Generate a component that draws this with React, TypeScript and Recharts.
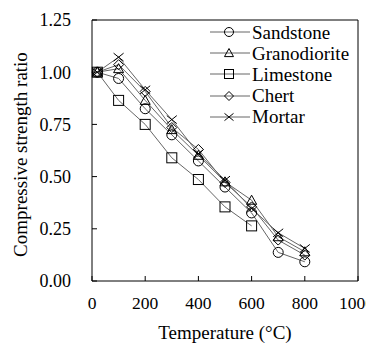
import React from 'react';
import { LineChart, Line, XAxis, YAxis, Legend, Label } from 'recharts';

const temperatures = [20, 100, 200, 300, 400, 500, 600, 700, 800];
const sandstone = [1.0, 0.97, 0.825, 0.7, 0.575, 0.45, 0.326, 0.137, 0.092];
const granodiorite = [1.0, 1.017, 0.865, 0.725, 0.602, 0.475, 0.387, 0.212, 0.14];
const limestone = [1.0, 0.865, 0.75, 0.59, 0.486, 0.355, 0.264, null, null];
const chert = [1.0, 1.036, 0.908, 0.735, 0.63, 0.472, 0.355, 0.196, 0.124];
const mortar = [1.0, 1.072, 0.916, 0.773, 0.61, 0.483, 0.347, 0.231, 0.156];

const xTicks = [0, 200, 400, 600, 800, 1000];
const yTicks = [0, 0.25, 0.5, 0.75, 1.0, 1.25];

const series = [
  { key: 'Sandstone', values: sandstone, shape: 'circle' },
  { key: 'Granodiorite', values: granodiorite, shape: 'triangle' },
  { key: 'Limestone', values: limestone, shape: 'square' },
  { key: 'Chert', values: chert, shape: 'diamond' },
  { key: 'Mortar', values: mortar, shape: 'cross' },
];

const data = temperatures.map((t, i) => {
  const row: Record<string, number | null> = { temp: t };
  series.forEach((s) => {
    row[s.key] = s.values[i];
  });
  return row;
});

const FONT = "'Liberation Serif'";
const LINE_COLOR = '#666';

// open black markers, one shape per series
const Marker = ({ shape, cx, cy, s = 5 }: { shape: string; cx: number; cy: number; s?: number }) => {
  const common = { fill: 'none', stroke: '#000', strokeWidth: 1 };
  switch (shape) {
    case 'circle':
      return <circle cx={cx} cy={cy} r={s} {...common} />;
    case 'square':
      return <rect x={cx - s} y={cy - s} width={s * 2} height={s * 2} {...common} />;
    case 'triangle':
      return (
        <polygon
          points={`${cx},${cy - s} ${cx - s},${cy + s * 0.8} ${cx + s},${cy + s * 0.8}`}
          {...common}
        />
      );
    case 'diamond':
      return (
        <polygon points={`${cx},${cy - s} ${cx + s},${cy} ${cx},${cy + s} ${cx - s},${cy}`} {...common} />
      );
    default:
      return (
        <path
          d={`M${cx - s},${cy - s * 0.8}L${cx + s},${cy + s * 0.8}M${cx - s},${cy + s * 0.8}L${cx + s},${cy - s * 0.8}`}
          {...common}
        />
      );
  }
};

const makeDot = (shape: string) => (props: any) => {
  const { cx, cy, index, value } = props;
  if (cx == null || cy == null || value == null) return <g key={`e-${index}`} />;
  return (
    <g key={`d-${index}`}>
      <Marker shape={shape} cx={cx} cy={cy} />
    </g>
  );
};

const LegendBox = () => (
  <div style={{ fontFamily: FONT, fontSize: 19, color: '#000' }}>
    {series.map((s) => (
      <div key={s.key} style={{ display: 'flex', alignItems: 'center', height: 21.2 }}>
        <svg width={42} height={20} style={{ display: 'block', flex: 'none' }}>
          <line x1={0} y1={10} x2={40} y2={10} stroke={LINE_COLOR} strokeWidth={1} />
          <Marker shape={s.shape} cx={19} cy={10} s={4.5} />
        </svg>
        <span style={{ lineHeight: '21px' }}>{s.key}</span>
      </div>
    ))}
  </div>
);

const YTitle = (props: any) => {
  const { viewBox } = props;
  const x = viewBox.x + 12.5;
  const y = viewBox.y + viewBox.height / 2 + 4;
  return (
    <text
      x={x}
      y={y}
      transform={`rotate(-90, ${x}, ${y})`}
      textAnchor="middle"
      dy="0.355em"
      fontSize={19}
      fill="#000"
    >
      Compressive strength ratio
    </text>
  );
};

export default function App() {
  return (
    <div style={{ fontFamily: FONT }}>
      <style>{`.recharts-wrapper text { font-family: ${FONT}; } .recharts-surface { overflow: visible; }`}</style>
      <LineChart
        width={366}
        height={337}
        data={data}
        margin={{ top: 11, right: 15, bottom: 9, left: 0 }}
        style={{ overflow: 'visible' }}
      >
        <XAxis
          dataKey="temp"
          type="number"
          domain={[0, 1000]}
          ticks={xTicks}
          height={55}
          stroke="#000"
          tickSize={-5}
          tickMargin={21}
          tick={{ fontSize: 17.5, fill: '#000' }}
        >
          <Label value="Temperature (°C)" position="insideBottom" offset={-3} fontSize={19} fill="#000" />
        </XAxis>
        <XAxis
          xAxisId="top"
          orientation="top"
          type="number"
          domain={[0, 1000]}
          ticks={xTicks}
          height={1}
          stroke="#000"
          tickSize={-5}
          tick={false}
        />
        <YAxis
          type="number"
          domain={[0, 1.25]}
          ticks={yTicks}
          width={84}
          stroke="#000"
          tickSize={-5}
          tickMargin={26}
          tickFormatter={(v: number) => v.toFixed(2)}
          tick={{ fontSize: 18, fill: '#000' }}
          label={<YTitle />}
        />
        <YAxis
          yAxisId="right"
          orientation="right"
          type="number"
          domain={[0, 1.25]}
          ticks={yTicks}
          width={1}
          stroke="#000"
          tickSize={-5}
          tick={false}
        />
        <Legend
          layout="horizontal"
          verticalAlign="middle"
          align="center"
          content={<LegendBox />}
          wrapperStyle={{ top: 13.5, left: 202, width: 150, height: 'auto' }}
        />
        {series.map((s) => (
          <Line
            key={s.key}
            dataKey={s.key}
            name={s.key}
            stroke={LINE_COLOR}
            strokeWidth={1}
            dot={makeDot(s.shape)}
            activeDot={false}
            isAnimationActive={false}
            connectNulls={false}
          />
        ))}
      </LineChart>
    </div>
  );
}
